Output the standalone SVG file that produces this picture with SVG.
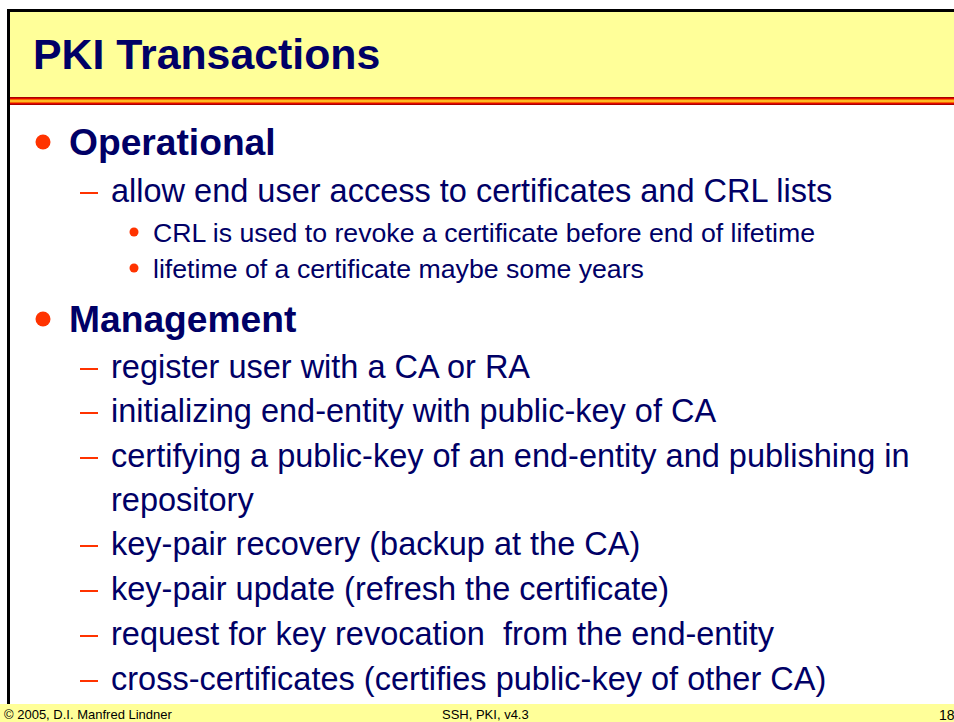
<svg xmlns="http://www.w3.org/2000/svg" width="954" height="722" viewBox="0 0 954 722">
  <defs>
    <linearGradient id="stripe" x1="0" y1="0" x2="0" y2="1">
      <stop offset="0" stop-color="#8B0000"/>
      <stop offset="0.18" stop-color="#E00000"/>
      <stop offset="0.36" stop-color="#FF8800"/>
      <stop offset="0.5" stop-color="#FFE040"/>
      <stop offset="0.64" stop-color="#FF8800"/>
      <stop offset="0.82" stop-color="#E00000"/>
      <stop offset="1" stop-color="#8B0000"/>
    </linearGradient>
    <style>
      text { font-family: "Liberation Sans", Arial, sans-serif; fill: #000066; }
      .title { font-size: 42.8px; font-weight: bold; }
      .l1 { font-size: 37.2px; font-weight: bold; }
      .l2 { font-size: 32.5px; }
      .l3 { font-size: 26.7px; }
      .foot { font-size: 13px; fill: #000000; }
      .dot { fill: #FF3300; }
      .dash { stroke: #FF3300; stroke-width: 2; }
    </style>
  </defs>

  <rect x="0" y="0" width="954" height="722" fill="#FFFFFF"/>

  <!-- header band -->
  <g id="header">
    <rect x="9" y="11" width="945" height="86" fill="#FFFF99"/>
    <rect x="9" y="97" width="945" height="8" fill="url(#stripe)"/>
    <rect x="7" y="9" width="947" height="3" fill="#000000"/>
    <rect x="7" y="9" width="3" height="695" fill="#000000"/>
    <text class="title" x="33" y="69">PKI Transactions</text>
  </g>

  <!-- body -->
  <g id="operational">
    <circle class="dot" cx="43" cy="142" r="7.5"/>
    <text class="l1" x="69" y="155">Operational</text>
    <line class="dash" x1="80" y1="193" x2="98" y2="193"/>
    <text class="l2" x="111" y="202">allow end user access to certificates and CRL lists</text>
    <circle class="dot" cx="134" cy="232" r="4.5"/>
    <text class="l3" x="153" y="242">CRL is used to revoke a certificate before end of lifetime</text>
    <circle class="dot" cx="134" cy="268" r="4.5"/>
    <text class="l3" x="153" y="278">lifetime of a certificate maybe some years</text>
  </g>

  <g id="management">
    <circle class="dot" cx="43" cy="319" r="7.5"/>
    <text class="l1" x="69" y="332">Management</text>
    <line class="dash" x1="80" y1="369" x2="98" y2="369"/>
    <text class="l2" x="111" y="378">register user with a CA or RA</text>
    <line class="dash" x1="80" y1="413" x2="98" y2="413"/>
    <text class="l2" x="111" y="422">initializing end-entity with public-key of CA</text>
    <line class="dash" x1="80" y1="458" x2="98" y2="458"/>
    <text class="l2" x="111" y="467">certifying a public-key of an end-entity and publishing in</text>
    <text class="l2" x="111" y="511">repository</text>
    <line class="dash" x1="80" y1="546" x2="98" y2="546"/>
    <text class="l2" x="111" y="555">key-pair recovery (backup at the CA)</text>
    <line class="dash" x1="80" y1="591" x2="98" y2="591"/>
    <text class="l2" x="111" y="600">key-pair update (refresh the certificate)</text>
    <line class="dash" x1="80" y1="636" x2="98" y2="636"/>
    <text class="l2" x="111" y="645" xml:space="preserve">request for key revocation  from the end-entity</text>
    <line class="dash" x1="80" y1="681" x2="98" y2="681"/>
    <text class="l2" x="111" y="690">cross-certificates (certifies public-key of other CA)</text>
  </g>

  <!-- footer band -->
  <g id="footer">
    <rect x="0" y="704" width="954" height="18" fill="#FFFF99"/>
    <text class="foot" x="4" y="719">© 2005, D.I. Manfred Lindner</text>
    <text class="foot" x="442" y="719">SSH, PKI, v4.3</text>
    <text class="foot" x="939" y="720" style="font-size:14px">18</text>
  </g>
</svg>
